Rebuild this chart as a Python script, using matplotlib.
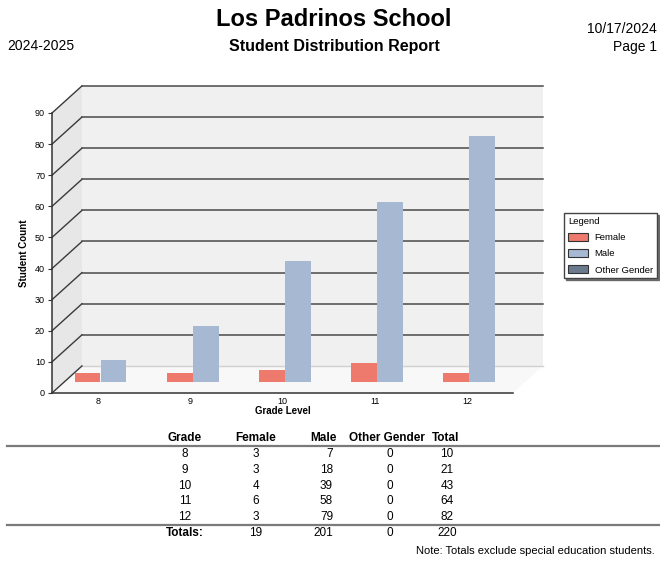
import matplotlib
matplotlib.use("Agg")
import matplotlib.pyplot as plt
from matplotlib.patches import Polygon, Rectangle, Patch

plt.rcParams['font.family'] = ['Liberation Sans', 'DejaVu Sans']

# ---- data ----
grades = ['8', '9', '10', '11', '12']
female = [3, 3, 4, 6, 3]
male = [7, 18, 39, 58, 79]
other = [0, 0, 0, 0, 0]
row_totals = [10, 21, 43, 64, 82]
col_totals = ['19', '201', '0', '220']
series_names = ['Female', 'Male', 'Other Gender']
series_colors = ['#EE796D', '#A7B8D2', '#6B7A8D']

W, H = 660, 563
fig = plt.figure(figsize=(W / 100, H / 100), dpi=100)


def fx(x):
    return x / W


def fy(y):
    return 1 - y / H


# ---- header ----
fig.text(fx(334), fy(19), 'Los Padrinos School', ha='center', va='center',
         fontsize=17, fontweight='bold')
fig.text(fx(334), fy(47), 'Student Distribution Report', ha='center', va='center',
         fontsize=11.5, fontweight='bold')
fig.text(fx(7), fy(46), '2024-2025', ha='left', va='center', fontsize=10)
fig.text(fx(657), fy(29), '10/17/2024', ha='right', va='center', fontsize=10)
fig.text(fx(657), fy(47), 'Page 1', ha='right', va='center', fontsize=10)

# ---- pseudo 3D chart ----
ax = fig.add_axes([fx(52), fy(393), (513 - 52) / W, (393 - 113) / H])
ax.set_xlim(-0.5, 4.5)
ax.set_ylim(0, 90)
ax.patch.set_visible(False)

x0, x1 = -0.5, 4.5
ymax = 90
ddx, ddy = 0.325, 8.7  # depth offset of back wall

# left wall, back wall, floor
ax.add_patch(Polygon([(x0, 0), (x0 + ddx, ddy), (x0 + ddx, ymax + ddy), (x0, ymax)],
                     closed=True, facecolor='#E7E7E7', edgecolor='none', zorder=0.5, clip_on=False))
ax.add_patch(Rectangle((x0 + ddx, ddy), x1 - x0, ymax, facecolor='#F0F0F0',
                       edgecolor='none', zorder=0.5, clip_on=False))
ax.add_patch(Polygon([(x0, 0), (x1, 0), (x1 + ddx, ddy), (x0 + ddx, ddy)],
                     closed=True, facecolor='#F8F8F8', edgecolor='none', zorder=0.6, clip_on=False))
ax.plot([x0 + ddx, x1 + ddx], [ddy, ddy], color='#D0D0D0', lw=1, zorder=0.7, clip_on=False)

# gridlines on back wall and side wall
for v in range(0, 100, 10):
    ax.plot([x0, x0 + ddx], [v, v + ddy], color='#3A3A3A', lw=1, zorder=1, clip_on=False)
    if v > 0:
        ax.plot([x0 + ddx, x1 + ddx], [v + ddy, v + ddy], color='#4A4A4A', lw=1.1,
                zorder=1, clip_on=False)

# bars, standing at mid depth
depth_y = 3.5
offsets = [-0.115, 0.168, 0.451]
bar_w = 0.28
xs = range(len(grades))
for vals, off, col in zip([female, male, other], offsets, series_colors):
    ax.bar([x + off for x in xs], vals, width=bar_w, bottom=depth_y, color=col,
           edgecolor='none', zorder=3, clip_on=False)

# axes styling
for s in ['top', 'right']:
    ax.spines[s].set_visible(False)
ax.spines['left'].set_color('#333333')
ax.spines['bottom'].set_color('#333333')
ax.spines['left'].set_linewidth(1.1)
ax.spines['bottom'].set_linewidth(1.1)
ax.set_yticks(range(0, 100, 10))
ax.tick_params(axis='y', length=3, width=0.8, labelsize=6.5, pad=2, color='#333333')
ax.set_xticks(list(xs))
ax.set_xticklabels(grades)
ax.tick_params(axis='x', length=0, labelsize=6.5, pad=3)
ax.set_xlabel('Grade Level', fontsize=7, fontweight='bold', labelpad=0)
ax.set_ylabel('Student Count', fontsize=7, fontweight='bold', labelpad=4)

# legend
handles = [Patch(facecolor=c, edgecolor='#333333', linewidth=0.8) for c in series_colors]
fig.legend(handles, series_names, title='Legend', loc='upper left',
           bbox_to_anchor=(fx(564), fy(213)), fontsize=6.8, title_fontsize=6.8,
           alignment='left', frameon=True, fancybox=False,
           shadow={'ox': 1.5, 'oy': -1.5, 'color': '#555555', 'alpha': 0.8},
           edgecolor='#444444', framealpha=1, handlelength=2.1, handleheight=0.9,
           borderpad=0.4, labelspacing=0.75, handletextpad=0.75, borderaxespad=0)

# ---- table ----
tfs = 8.5
col_x = [185, 256, 323, 387, 446]
fig.text(fx(col_x[0]), fy(438), 'Grade', ha='center', va='center', fontsize=tfs, fontweight='bold')
fig.text(fx(col_x[1]), fy(438), 'Female', ha='center', va='center', fontsize=tfs, fontweight='bold')
fig.text(fx(col_x[2]), fy(438), 'Male', ha='center', va='center', fontsize=tfs, fontweight='bold')
fig.text(fx(col_x[3]), fy(438), 'Other Gender', ha='center', va='center', fontsize=tfs, fontweight='bold')
fig.text(fx(col_x[4]), fy(438), 'Total', ha='center', va='center', fontsize=tfs, fontweight='bold')

fig.add_artist(plt.Line2D([fx(7), fx(660)], [fy(445.5), fy(445.5)], color='#7A7A7A', lw=1.6))
fig.add_artist(plt.Line2D([fx(7), fx(660)], [fy(524.5), fy(524.5)], color='#7A7A7A', lw=1.6))

row_y = [454, 470, 486, 501, 517]
for i, yy in enumerate(row_y):
    fig.text(fx(185), fy(yy), grades[i], ha='center', va='center', fontsize=tfs)
    fig.text(fx(256), fy(yy), str(female[i]), ha='center', va='center', fontsize=tfs)
    fig.text(fx(333), fy(yy), str(male[i]), ha='right', va='center', fontsize=tfs)
    fig.text(fx(390), fy(yy), str(other[i]), ha='center', va='center', fontsize=tfs)
    fig.text(fx(447), fy(yy), str(row_totals[i]), ha='center', va='center', fontsize=tfs)

fig.text(fx(185), fy(533), 'Totals:', ha='center', va='center', fontsize=tfs, fontweight='bold')
fig.text(fx(256), fy(533), col_totals[0], ha='center', va='center', fontsize=tfs)
fig.text(fx(333), fy(533), col_totals[1], ha='right', va='center', fontsize=tfs)
fig.text(fx(390), fy(533), col_totals[2], ha='center', va='center', fontsize=tfs)
fig.text(fx(447), fy(533), col_totals[3], ha='center', va='center', fontsize=tfs)

fig.text(fx(655), fy(551), 'Note: Totals exclude special education students.',
         ha='right', va='center', fontsize=8)

fig.savefig('out.png', dpi=100)
